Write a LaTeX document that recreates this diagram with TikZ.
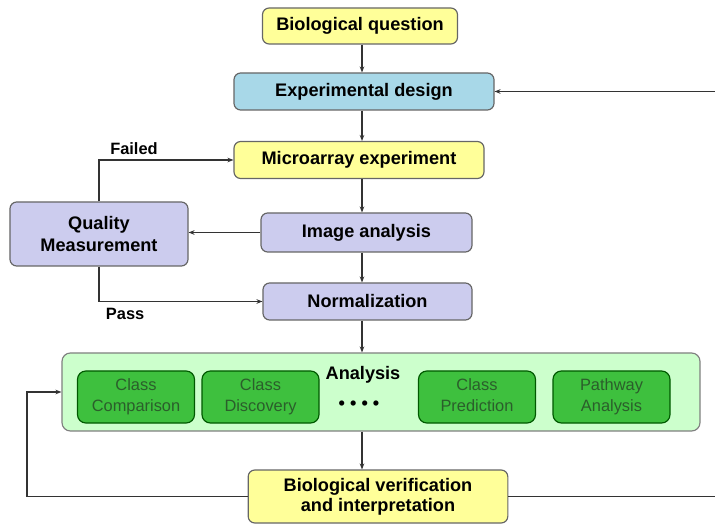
\documentclass[tikz,border=0pt]{standalone}
\usepackage{fontspec}
\setmainfont{Liberation Sans}
\usepackage{xcolor}
\definecolor{boxyellow}{HTML}{FFFF99}
\definecolor{boxblue}{HTML}{A8D8E8}
\definecolor{boxlilac}{HTML}{CCCCEE}
\definecolor{anlight}{HTML}{CCFFCC}
\definecolor{angreen}{HTML}{3EC03E}
\definecolor{antext}{HTML}{2B5E2B}
\usetikzlibrary{positioning,arrows.meta,calc}
\tikzset{
  fbox/.style ={rectangle, rounded corners=2mm, draw=black!60, line width=0.35mm,
                align=center, inner sep=2pt, font=\fontsize{15.5}{17}\selectfont\bfseries},
  ybox/.style ={fbox, fill=boxyellow},
  bbox/.style ={fbox, fill=boxblue},
  lbox/.style ={fbox, fill=boxlilac},
  abox/.style ={rectangle, rounded corners=2.5mm, draw=black!50, fill=anlight, line width=0.35mm},
  gbox/.style ={rectangle, rounded corners=2.5mm, draw=green!35!black, fill=angreen,
                line width=0.35mm, minimum width=35.1mm, minimum height=15.6mm, align=center,
                text=antext, font=\fontsize{14}{18}\selectfont},
  atxt/.style ={font=\fontsize{15.5}{17}\selectfont\bfseries, inner sep=1pt},
  arr/.style  ={-{Stealth[length=1.8mm,width=1.4mm]}, line width=0.35mm, draw=black!80},
  el/.style   ={font=\fontsize{14}{16}\selectfont\bfseries, inner sep=1pt},
}

\begin{document}
\begin{tikzpicture}[x=0.3mm, y=-0.3mm]
  \useasboundingbox (0,0) rectangle (715,524);
  \node[ybox, minimum width=58.5mm, minimum height=10.8mm] (bq) at (360,26) {Biological question};
  \node[bbox, minimum width=78mm, minimum height=11.1mm] (ed) at (364,91.5) {Experimental design};
  \node[ybox, minimum width=75mm, minimum height=11.1mm] (me) at (359,160) {Microarray experiment};
  \node[lbox, minimum width=53.4mm, minimum height=19.2mm] (qm) at (99,234) {Quality\\[2pt]Measurement};
  \node[lbox, minimum width=63.3mm, minimum height=11.7mm] (ia) at (366.5,232.5) {Image analysis};
  \node[lbox, minimum width=62.7mm, minimum height=11.1mm] (nm) at (367.5,301.5) {Normalization};
  \node[abox, minimum width=191.4mm, minimum height=23.4mm] (an) at (381,392) {};
  \node[atxt] (antitle) at (363,375) {Analysis};
  \node[atxt] (andots) at (359,405) {• • • •};
  \node[gbox] (cc) at (136,397) {Class\strut\\Comparison\strut};
  \node[gbox] (cd) at (260.5,397) {Class\strut\\Discovery\strut};
  \node[gbox] (cp) at (477,397) {Class\strut\\Prediction\strut};
  \node[gbox] (pa) at (611.5,397) {Pathway\strut\\Analysis\strut};
  \node[ybox, minimum width=77.9mm, minimum height=15.9mm] (bv) at (378,496.5) {Biological verification\\and interpretation};

  \coordinate (spine) at (362,0);
  \coordinate (lp) at (27,0);
  \coordinate (rt) at (722,91.5);

  \draw[arr] (spine |- bq.south) -- (spine |- ed.north);
  \draw[arr] (spine |- ed.south) -- (spine |- me.north);
  \draw[arr] (spine |- me.south) -- (spine |- ia.north);
  \draw[arr] (spine |- ia.south) -- (spine |- nm.north);
  \draw[arr] (spine |- nm.south) -- (spine |- an.north);
  \draw[arr] (spine |- an.south) -- (spine |- bv.north);
  \draw[arr] (ia.west) -- (ia.west -| qm.east);
  \draw[arr] (qm.north) |- node[el, pos=0.63, above, yshift=1mm]{Failed} (me.west);
  \draw[arr] (qm.south) |- node[el, pos=0.58, below, yshift=-1.5mm]{Pass} (nm.west);
  \draw[arr] (bv.west) -- (bv.west -| lp) |- (an.west);
  \draw[arr] (bv.east) -- (bv.east -| rt) -- (rt) -- (ed.east);
\end{tikzpicture}
\end{document}
